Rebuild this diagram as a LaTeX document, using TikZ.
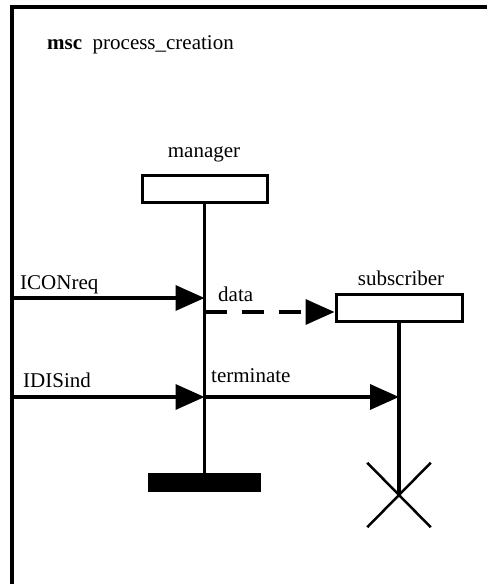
\documentclass[tikz,border=0pt]{standalone}
\usepackage{fontspec}
\setmainfont{Liberation Serif}
\usetikzlibrary{positioning, arrows.meta, calc, shapes.misc}

\begin{document}
\begin{tikzpicture}[
    x=1pt, y=1pt,
    % Define styles
    txt/.style={font=\fontsize{21}{25}\selectfont, inner sep=0pt},
    msglabel/.style={txt, anchor=base west},
    instance/.style={rectangle, draw, line width=3pt, minimum width=125pt, minimum height=27pt, inner sep=0pt},
    stopbar/.style={rectangle, fill=black, minimum width=113pt, minimum height=19pt, inner sep=0pt},
    stopcross/.style={cross out, draw, line width=2.5pt, minimum width=61pt, minimum height=62pt, inner sep=0pt},
    lifeline/.style={line width=3.5pt},
    msg/.style={line width=3.5pt, -{Triangle[length=29pt,width=25pt]}}
]
    \useasboundingbox (0,0) rectangle (487,584);
    \clip (0,0) rectangle (487,584);

    % --- FRAME ---
    \draw [line width=4pt] (12,-20) |- (520,576.5);
    \node (title) [msglabel] at (47,534) {\textbf{msc}\hspace{0.5em}process\_creation};

    % --- INSTANCES ---
    \node (manager) [instance] at (204.5,395) {};
    \node (manager_name) [txt, anchor=base] at (204,426) {manager};
    \node (manager_stop) [stopbar] at (204.5,101.5) {};

    \node (subscriber) [instance, minimum width=126pt] at (399,275.5) {};
    \node (subscriber_name) [txt, anchor=base] at (401,298) {subscriber};
    \node (subscriber_stop) [stopcross] at (399,89) {};

    \draw [lifeline] (manager.south) -- (manager_stop.north);
    \draw [lifeline] (subscriber.south) -- (subscriber_stop.center);

    % --- MESSAGES ---
    \coordinate (icon_src) at (12,286);
    \coordinate (data_src) at (manager.south |- 0,272);
    \coordinate (idis_src) at (12,187);
    \coordinate (term_src) at (manager.south |- idis_src);

    \draw [msg] (icon_src) -- (icon_src -| manager.south);
    \draw [msg, dash pattern=on 22pt off 15pt] (data_src) -- (data_src -| subscriber.west);
    \draw [msg] (idis_src) -- (term_src);
    \draw [msg] (term_src) -- (term_src -| subscriber.south);

    \node (icon_text) [msglabel] at (20,294) {ICONreq};
    \node (data_text) [msglabel] at (218,282) {data};
    \node (idis_text) [msglabel] at (23,196) {IDISind};
    \node (term_text) [msglabel] at (211,201) {terminate};

\end{tikzpicture}
\end{document}
